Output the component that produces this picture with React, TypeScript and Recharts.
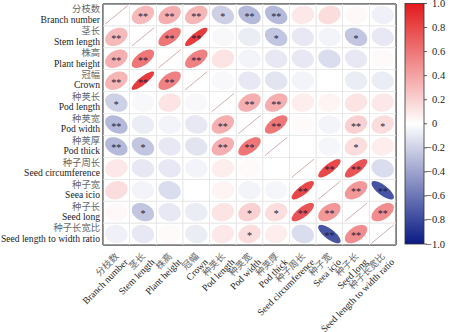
import React from 'react';
import { ScatterChart, Scatter, XAxis, YAxis, ReferenceArea, Customized } from 'recharts';

const cnLabels = ['分枝数', '茎长', '株高', '冠幅', '种荚长', '种荚宽', '种荚厚', '种子周长', '种子宽', '种子长', '种子长宽比'];
const enLabels = ['Branch number', 'Stem length', 'Plant height', 'Crown', 'Pod length', 'Pod width', 'Pod thick', 'Seed circumference', 'Seea icio', 'Seed long', 'Seed length to width ratio'];

// correlation rows
const r0 = [1, 0.30, 0.35, 0.32, -0.20, -0.30, -0.30, 0.10, 0.15, 0.03, -0.06];
const r1 = [0.30, 1, 0.60, 0.85, -0.03, -0.08, -0.25, -0.10, -0.05, -0.25, -0.10];
const r2 = [0.35, 0.60, 1, 0.55, 0.12, -0.05, -0.10, -0.10, -0.15, -0.10, 0.02];
const r3 = [0.32, 0.85, 0.55, 1, -0.03, -0.10, -0.12, -0.05, 0.0, -0.08, -0.08];
const r4 = [-0.20, -0.03, 0.12, -0.03, 1, 0.35, 0.35, 0.08, 0.05, 0.12, 0.10];
const r5 = [-0.30, -0.08, -0.05, -0.10, 0.35, 1, 0.60, 0.02, -0.05, 0.20, 0.15];
const r6 = [-0.30, -0.25, -0.10, -0.12, 0.35, 0.60, 1, 0.0, -0.04, 0.15, 0.08];
const r7 = [0.10, -0.10, -0.10, -0.05, 0.08, 0.02, 0.0, 1, 0.80, 0.75, -0.15];
const r8 = [0.15, -0.05, -0.15, 0.0, 0.05, -0.05, -0.04, 0.80, 1, 0.45, -0.75];
const r9 = [0.03, -0.25, -0.10, -0.08, 0.12, 0.20, 0.15, 0.75, 0.45, 1, 0.50];
const r10 = [-0.06, -0.10, 0.02, -0.08, 0.10, 0.15, 0.08, -0.15, -0.75, 0.50, 1];
const corrRows = [r0, r1, r2, r3, r4, r5, r6, r7, r8, r9, r10];

// significance marks
const s0 = ['', '**', '**', '**', '*', '**', '**', '', '', '', ''];
const s1 = ['**', '', '**', '**', '', '', '*', '', '', '*', ''];
const s2 = ['**', '**', '', '**', '', '', '', '', '', '', ''];
const s3 = ['**', '**', '**', '', '', '', '', '', '', '', ''];
const s4 = ['*', '', '', '', '', '**', '**', '', '', '', ''];
const s5 = ['**', '', '', '', '**', '', '**', '', '', '**', '*'];
const s6 = ['**', '*', '', '', '**', '**', '', '', '', '*', ''];
const s7 = ['', '', '', '', '', '', '', '', '**', '**', ''];
const s8 = ['', '', '', '', '', '', '', '**', '', '**', '**'];
const s9 = ['', '*', '', '', '', '*', '*', '**', '**', '', '**'];
const s10 = ['', '', '', '', '', '*', '', '', '**', '**', ''];
const sigRows = [s0, s1, s2, s3, s4, s5, s6, s7, s8, s9, s10];

const legendTicks = [1.0, 0.8, 0.6, 0.4, 0.2, 0, -0.2, -0.4, -0.6, -0.8, -1.0];

const N = cnLabels.length;
const idx = cnLabels.map((_, i) => i);
const cells = corrRows.flatMap((row, i) => row.map((v, j) => ({ x: j, y: i, r: v, sig: sigRows[i][j], diag: i === j })));

const W = 450, H = 332;
const M = { top: 4, right: 54, left: 0, bottom: 0 };
const YW = 103, XH = 87;
const plotW = W - M.left - M.right - YW;
const plotH = H - M.top - M.bottom - XH;
const cw = plotW / N;
const ch = plotH / N;

const POS = [227, 26, 28];
const NEG = [10, 26, 132];
function colorOf(v: number) {
  const t = Math.min(1, Math.abs(v));
  const c = v >= 0 ? POS : NEG;
  const m = c.map((k) => Math.round(255 + (k - 255) * t));
  return `rgb(${m[0]},${m[1]},${m[2]})`;
}

const SERIF = "'Liberation Serif','Times New Roman',serif";
const CJK = "'Noto Sans CJK SC','Liberation Serif',serif";
const EN_FS = 9.6;
const CN_FS = 9.3;

function ellipsePath(cx: number, cy: number, r: number) {
  const k = 0.42;
  const a = k * Math.sqrt(1 + Math.abs(r));
  const b = k * Math.sqrt(Math.max(0, 1 - Math.abs(r)));
  const s = r >= 0 ? -1 : 1;
  const d1 = [1 / Math.SQRT2, s / Math.SQRT2];
  const d2 = [-s / Math.SQRT2, 1 / Math.SQRT2];
  let p = '';
  const n = 48;
  for (let t = 0; t <= n; t++) {
    const th = (t / n) * Math.PI * 2;
    const u = a * Math.cos(th);
    const w = b * Math.sin(th);
    const px = cx + (u * d1[0] + w * d2[0]) * cw;
    const py = cy + (u * d1[1] + w * d2[1]) * ch;
    p += (t === 0 ? 'M' : 'L') + px.toFixed(2) + ',' + py.toFixed(2);
  }
  return p + 'Z';
}

const CellShape = (props: any) => {
  const { cx, cy, payload } = props;
  if (cx == null || cy == null) return null;
  const d = 0.42;
  return (
    <g>
      <rect x={cx - cw / 2} y={cy - ch / 2} width={cw} height={ch} fill="none" stroke="#e4e4e4" strokeWidth={0.6} />
      {payload.diag ? (
        <line x1={cx - d * cw} y1={cy + d * ch} x2={cx + d * cw} y2={cy - d * ch} stroke="#c48a8a" strokeWidth={0.7} />
      ) : (
        <path d={ellipsePath(cx, cy, payload.r)} fill={colorOf(payload.r)} stroke="none" />
      )}
      {payload.sig ? (
        <text x={cx} y={cy + 5} textAnchor="middle" fontSize={10} fontFamily={SERIF} fill="#1c1c3c">{payload.sig}</text>
      ) : null}
    </g>
  );
};

const YTick = (props: any) => {
  const { x, y, payload } = props;
  const i = payload.value;
  return (
    <g>
      <text x={x - 3} y={y - 2.6} textAnchor="end" fontSize={CN_FS} fontFamily={CJK} fill="#666">{cnLabels[i]}</text>
      <text x={x - 3} y={y + 7.8} textAnchor="end" fontSize={EN_FS} fontFamily={SERIF} fill="#222">{enLabels[i]}</text>
    </g>
  );
};

const XTick = (props: any) => {
  const { x, y, payload } = props;
  const i = payload.value;
  return (
    <g transform={`translate(${x + 3},${y + 12}) rotate(-45)`}>
      <text x={0} y={0} textAnchor="end" fontSize={CN_FS} fontFamily={CJK} fill="#666">{cnLabels[i]}</text>
      <text x={2.5} y={10.5} textAnchor="end" fontSize={EN_FS} fontFamily={SERIF} fill="#222">{enLabels[i]}</text>
    </g>
  );
};

const ColorBar = () => {
  const bx = 405, by = 3.5, bw = 19, bh = 240.5;
  const stops = [];
  for (let k = 0; k <= 20; k++) {
    const v = 1 - k * 0.1;
    stops.push(<stop key={k} offset={`${(k / 20) * 100}%`} stopColor={colorOf(v)} />);
  }
  return (
    <g>
      <defs>
        <linearGradient id="cbGrad" x1="0" y1="0" x2="0" y2="1">{stops}</linearGradient>
      </defs>
      <rect x={bx} y={by} width={bw} height={bh} fill="url(#cbGrad)" stroke="#333" strokeWidth={0.8} />
      {legendTicks.map((v) => {
        const ty = by + ((1 - v) / 2) * bh;
        const lab = v === 0 ? '0' : (v < 0 ? '\u2212' : '') + Math.abs(v).toFixed(1);
        return (
          <g key={v}>
            <line x1={bx + bw} y1={ty} x2={bx + bw + 3} y2={ty} stroke="#333" strokeWidth={0.8} />
            <text x={v < 0 ? 426 : 432} y={ty + 3.5} fontSize={10.5} fontFamily={SERIF} fill="#222">{lab}</text>
          </g>
        );
      })}
    </g>
  );
};

export default function App() {
  return (
    <div style={{ position: 'absolute', left: 0, top: 0, width: W, height: H, background: '#fff' }}>
      <ScatterChart width={W} height={H} margin={M}>
        <XAxis type="number" dataKey="x" domain={[-0.5, N - 0.5]} ticks={idx} interval={0} height={XH}
          axisLine={false} tickLine={false} tickSize={0} tickMargin={0} tick={<XTick />} allowDataOverflow />
        <YAxis type="number" dataKey="y" domain={[-0.5, N - 0.5]} ticks={idx} interval={0} width={YW} reversed
          axisLine={false} tickLine={false} tickSize={0} tickMargin={0} tick={<YTick />} allowDataOverflow />
        <Scatter data={cells} shape={<CellShape />} isAnimationActive={false} />
        <ReferenceArea x1={-0.5} x2={N - 0.5} y1={-0.5} y2={N - 0.5} fill="none" fillOpacity={0} stroke="#000" strokeWidth={1} />
        <Customized component={ColorBar} />
      </ScatterChart>
    </div>
  );
}
